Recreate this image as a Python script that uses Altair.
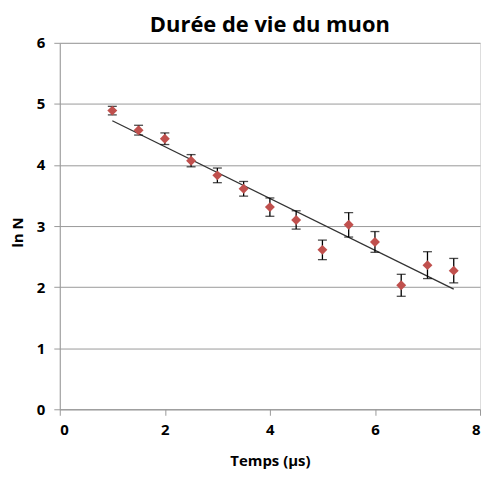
import altair as alt
import pandas as pd

temps = [1.0, 1.5, 2.0, 2.5, 3.0, 3.5, 4.0, 4.5, 5.0, 5.5, 6.0, 6.5, 7.0, 7.5]
ln_n = [4.89, 4.57, 4.43, 4.07, 3.83, 3.61, 3.31, 3.10, 2.61, 3.02, 2.74, 2.03, 2.36, 2.27]
err = [0.07, 0.08, 0.095, 0.10, 0.12, 0.12, 0.15, 0.15, 0.16, 0.20, 0.17, 0.18, 0.22, 0.20]

df = pd.DataFrame({"t": temps, "lnN": ln_n, "err": err})
df["lo"] = df["lnN"] - df["err"]
df["hi"] = df["lnN"] + df["err"]

FONT = "Open Sans"

x = alt.X("t:Q", scale=alt.Scale(domain=[0, 8], nice=False),
          axis=alt.Axis(title="Temps (µs)", values=[0, 2, 4, 6, 8], format="d", grid=False,
                        domainColor="#999999", tickColor="#999999", tickSize=6,
                        labelFontSize=15, labelFontWeight="bold", labelPadding=7,
                        titleFontSize=15, titleFontWeight="bold",
                        titleY=51, titleBaseline="middle",
                        labelFont=FONT, titleFont=FONT, labelColor="black", titleColor="black"))
y = alt.Y("lnN:Q", scale=alt.Scale(domain=[0, 6], nice=False),
          axis=alt.Axis(title="ln N", values=[0, 1, 2, 3, 4, 5, 6], format="d", grid=True,
                        gridColor="#999999", domainColor="#999999", tickColor="#999999",
                        tickSize=6, labelFontSize=15, labelFontWeight="bold", labelPadding=9,
                        titleFontSize=15, titleFontWeight="bold",
                        titleX=-42, titleY=190, titleAngle=270, titleAlign="center",
                        titleBaseline="middle",
                        labelFont=FONT, titleFont=FONT, labelColor="black", titleColor="black"))

base = alt.Chart(df)

trend = base.mark_line(color="#333333", strokeWidth=1.3).transform_regression(
    "t", "lnN", method="linear").encode(x=x, y=y)

bars = base.mark_rule(color="black", strokeWidth=1.3).encode(x=x, y="lo:Q", y2="hi:Q")
caps_lo = base.mark_tick(color="black", thickness=1.3, size=9, orient="horizontal").encode(x=x, y="lo:Q")
caps_hi = base.mark_tick(color="black", thickness=1.3, size=9, orient="horizontal").encode(x=x, y="hi:Q")

pts = base.mark_point(shape="diamond", filled=True, color="#C0504D", size=100, opacity=1).encode(x=x, y=y)

chart = alt.layer(trend, bars, caps_lo, caps_hi, pts).properties(
    width=422, height=368,
    title=alt.TitleParams("Durée de vie du muon", fontSize=22, fontWeight="bold",
                          font=FONT, color="black", offset=-1, anchor="middle", frame="group"),
    autosize=alt.AutoSizeParams(type="none"),
    padding={"left": 52, "top": 34, "right": 1, "bottom": 60},
).configure_view(stroke=None).configure(background="white")

chart.save("out.html", embed_options={"renderer": "svg", "actions": False})
